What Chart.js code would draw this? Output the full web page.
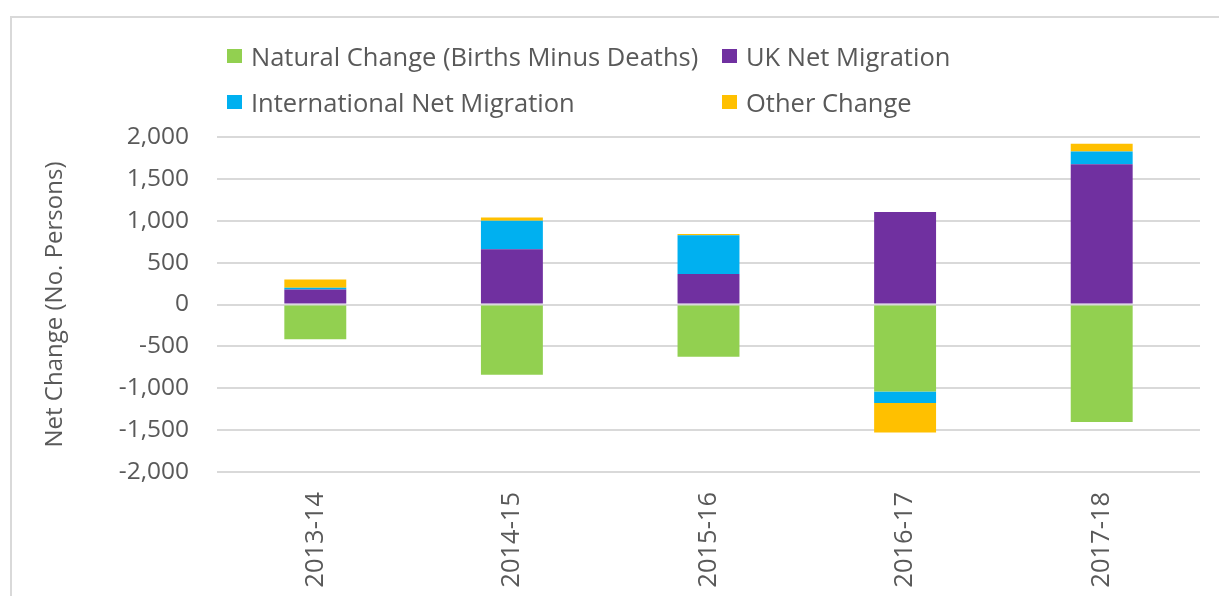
<!DOCTYPE html>
<html>
<head>
<meta charset="utf-8">
<script src="https://cdn.jsdelivr.net/npm/chart.js@4/dist/chart.umd.min.js"></script>
<style>
  html, body { margin: 0; padding: 0; background: #fff; }
  body { width: 1219px; height: 596px; position: relative; overflow: hidden; font-family: 'Open Sans', sans-serif; }
  #frame { position: absolute; left: 10px; top: 16px; width: 1240px; height: 620px; border: 2px solid #d9d9d9; }
  #wrap { position: absolute; left: 0; top: 0; width: 1219px; height: 596px; }
  #legend { position: absolute; left: 227px; top: 38px; display: grid; grid-template-columns: 495px 300px; row-gap: 10px; }
  .item { display: flex; align-items: center; height: 36px; font-size: 25.5px; color: #595959; white-space: nowrap; }
  .box { width: 15px; height: 14px; margin-right: 9px; }
</style>
</head>
<body>
<div id="frame"></div>
<div id="wrap"><canvas id="chart" width="1219" height="596"></canvas></div>
<div id="legend"></div>
<script>
const categories = ['2013-14', '2014-15', '2015-16', '2016-17', '2017-18'];
const naturalChange = [-415, -840, -624, -1040, -1404];
const ukNetMigration = [180, 660, 363, 1104, 1675];
const intlNetMigration = [20, 340, 464, -136, 153];
const otherChange = [100, 40, 15, -352, 92];
const yTicks = [-2000, -1500, -1000, -500, 0, 500, 1000, 1500, 2000];

const seriesNames = ['Natural Change (Births Minus Deaths)', 'UK Net Migration', 'International Net Migration', 'Other Change'];
const seriesColors = ['#92d050', '#7030a0', '#00b0f0', '#ffc000'];
const seriesData = [naturalChange, ukNetMigration, intlNetMigration, otherChange];

const textColor = '#595959';
const font = "'Open Sans', sans-serif";

const ctx = document.getElementById('chart').getContext('2d');
const chart = new Chart(ctx, {
  type: 'bar',
  data: {
    labels: categories,
    datasets: seriesNames.map((name, i) => ({
      label: name,
      data: seriesData[i],
      backgroundColor: seriesColors[i],
      borderWidth: 0,
      barPercentage: 0.63,
      categoryPercentage: 0.5
    }))
  },
  options: {
    responsive: false,
    animation: false,
    layout: { padding: { top: 137, right: 19, bottom: 0, left: 0 } },
    plugins: { legend: { display: false }, tooltip: { enabled: false } },
    scales: {
      x: {
        stacked: true,
        grid: { display: false },
        border: { display: false },
        ticks: { color: textColor, font: { family: font, size: 25.5 }, maxRotation: 90, minRotation: 90, padding: 12 },
        afterFit: s => { s.height = 124; }
      },
      y: {
        stacked: true,
        min: -2000, max: 2000,
        afterBuildTicks: s => { s.ticks = yTicks.map(v => ({ value: v })); },
        grid: { color: '#d9d9d9', lineWidth: 2, drawTicks: false },
        border: { display: false },
        ticks: {
          color: textColor, font: { family: font, size: 24.5 }, padding: 28,
          callback: v => v.toLocaleString('en-US')
        },
        title: {
          display: true, text: 'Net Change (No. Persons)', color: textColor,
          font: { family: font, size: 24 }, padding: { top: 41, bottom: 0 }
        },
        afterFit: s => { s.width = 217; }
      }
    }
  }
});

// HTML legend in two aligned columns
const legendEl = document.getElementById('legend');
legendEl.innerHTML = chart.data.datasets.map(ds =>
  `<div class="item"><span class="box" style="background:${ds.backgroundColor}"></span>${ds.label}</div>`
).join('');
</script>
</body>
</html>
